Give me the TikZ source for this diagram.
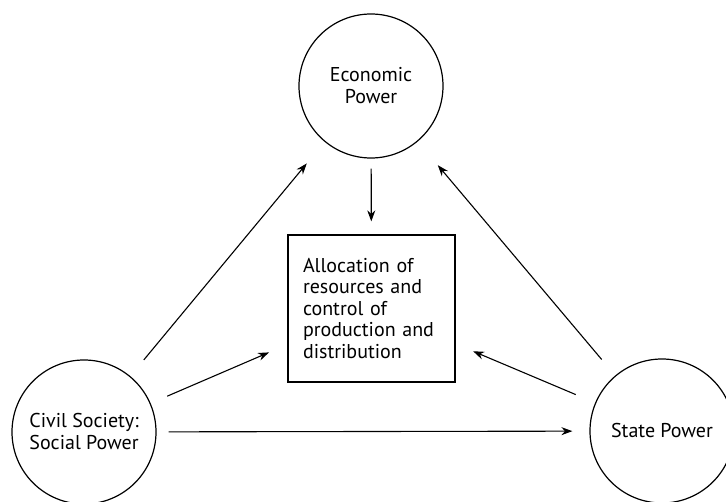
\documentclass[tikz,border=0pt]{standalone}
\usepackage{fontspec}
\setmainfont{PT Sans}
\usetikzlibrary{arrows.meta}

\begin{document}
\begin{tikzpicture}[x=1pt, y=1pt,
        power/.style={draw, circle, line width=1.2pt, minimum size=144pt, inner sep=0pt, align=center, font=\fontsize{20}{22}\selectfont},
        task/.style={draw, rectangle, line width=1.2pt, text width=137pt, inner xsep=15pt, minimum height=147pt, align=left, font=\fontsize{20}{21.5}\selectfont},
        link/.style={line width=1.1pt, -{Stealth[length=11pt, width=8pt]}}]
        \useasboundingbox (0,0) rectangle (726,501);
        \node[power] (econ) at (371,415) {Economic\\Power};
        \node[power] (civil) at (84,69) {Civil Society:\\Social Power};
        \node[power] (state) at (662,70) {State Power};
        \node[task] (alloc) at (371.5,192.5) {Allocation of\\resources and\\control of\\production and\\distribution};
        \draw[link, shorten <=10pt, shorten >=13pt] (econ) -- (alloc);
        \draw[link, shorten <=21pt, shorten >=28pt] (civil) -- (econ);
        \draw[link, shorten <=18pt, shorten >=20pt] (civil) -- (alloc);
        \draw[link, shorten <=12pt, shorten >=17pt] (civil) -- (state);
        \draw[link, shorten <=21pt, shorten >=31pt] (state) -- (econ);
        \draw[link, shorten <=21pt, shorten >=19pt] (state) -- (alloc);
\end{tikzpicture}
\end{document}
